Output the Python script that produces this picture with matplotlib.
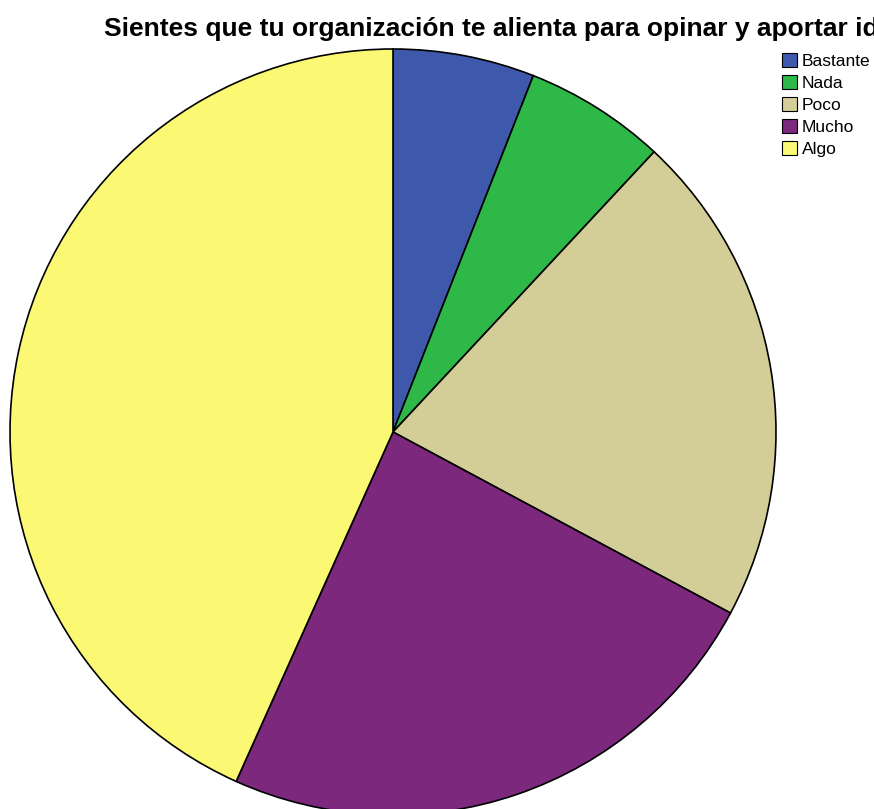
import matplotlib.pyplot as plt
from matplotlib.patches import Patch

# answer counts per category
labels = ["Bastante", "Nada", "Poco", "Mucho", "Algo"]
counts = [4, 4, 14, 16, 29]
colors = ["#3E58AC", "#2EB848", "#D3CE97", "#7C287D", "#FBF873"]

title = "Sientes que tu organización te alienta para opinar y aportar ideas?"

W, H = 874, 809
fig = plt.figure(figsize=(W / 100, H / 100), dpi=100)
ax = fig.add_axes([0, 0, 1, 1])

ax.pie(
    counts,
    colors=colors,
    startangle=90,
    counterclock=False,
    center=(393, H - 432),
    radius=383,
    frame=True,
    wedgeprops=dict(edgecolor="black", linewidth=1.2),
)
ax.set_xlim(0, W)
ax.set_ylim(0, H)
ax.set_aspect("equal")
ax.axis("off")

fig.text(104 / W, 1 - 36 / H, title, fontsize=19, fontweight="bold",
         family="Liberation Sans", va="baseline", ha="left")

handles = [Patch(facecolor=c, edgecolor="black", linewidth=0.8) for c in colors]
fig.legend(
    handles, labels,
    loc="upper left",
    bbox_to_anchor=(782 / W, 1 - 53 / H),
    frameon=False,
    prop={"family": "Liberation Sans", "size": 12.5},
    handlelength=0.85,
    handleheight=0.85,
    handletextpad=0.3,
    labelspacing=0.35,
    borderpad=0,
    borderaxespad=0,
)

fig.savefig("out.png", dpi=100)
